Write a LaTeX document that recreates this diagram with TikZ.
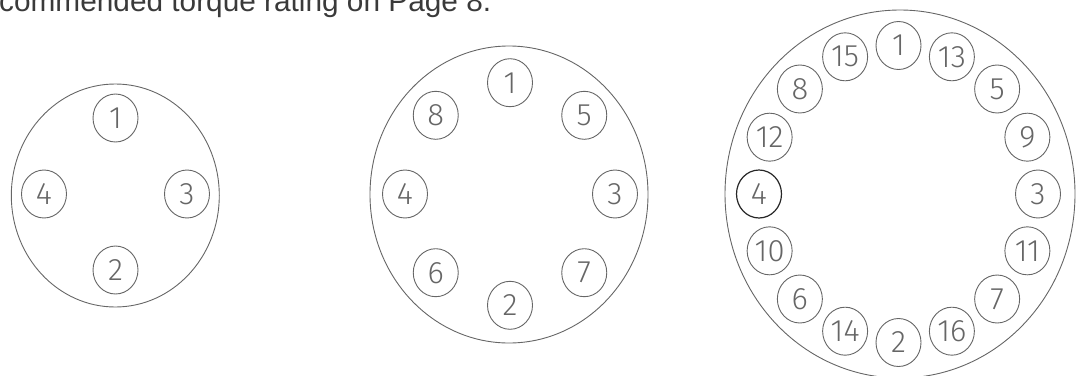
\documentclass[tikz,border=0pt]{standalone}
\usepackage{fontspec}
\setmainfont{Liberation Sans}
\newfontfamily\digitfont{Fira Sans Light}
\usetikzlibrary{shapes.geometric}
\definecolor{ink}{HTML}{666666}
\definecolor{txt}{HTML}{3A3A3A}
\tikzset{
  rim/.style={ellipse, draw=ink, line width=0.9pt, inner sep=0pt},
  bolt/.style={ellipse, draw=ink, line width=0.9pt, inner sep=0pt,
    minimum width=45pt, minimum height=48pt,
    font=\digitfont\fontsize{31}{31}\selectfont, text=ink},
  boltdark/.style={bolt, draw=black!85, line width=1.2pt},
  header/.style={anchor=base west, inner sep=0pt, text=txt,
    font=\fontsize{29.8}{30}\selectfont},
}
\begin{document}
\begin{tikzpicture}[x=1pt,y=-1pt]
\useasboundingbox (0,0) rectangle (1081,375);
\node[header] (hdr) at (-1,11.7) {commended torque rating on Page 8.};
% 4-bolt flange
\node[rim, minimum width=208pt, minimum height=223pt] (rimA) at (115.3,195.5) {};
\foreach \n [count=\i from 0] in {1,3,2,4} {
  \node[bolt] (a\n) at ({115.5+71.5*sin(90*\i)},{194-76*cos(90*\i)}) {\n};
}
% 8-bolt flange
\node[rim, minimum width=278pt, minimum height=297pt] (rimB) at (509,194.5) {};
\foreach \n [count=\i from 0] in {1,5,3,7,2,6,4,8} {
  \node[bolt] (b\n) at ({510+105*sin(45*\i)},{194-111.3*cos(45*\i)}) {\n};
}
% 16-bolt flange
\node[rim, minimum width=350pt, minimum height=368pt] (rimC) at (900,194) {};
\foreach \n/\s [count=\i from 0] in {1/bolt,13/bolt,5/bolt,9/bolt,3/bolt,11/bolt,7/bolt,16/bolt,2/bolt,14/bolt,6/bolt,10/bolt,4/boltdark,12/bolt,8/bolt,15/bolt} {
  \node[\s] (c\n) at ({898.5+139.5*sin(22.5*\i)},{194-148.5*cos(22.5*\i)}) {\n};
}
\end{tikzpicture}
\end{document}
